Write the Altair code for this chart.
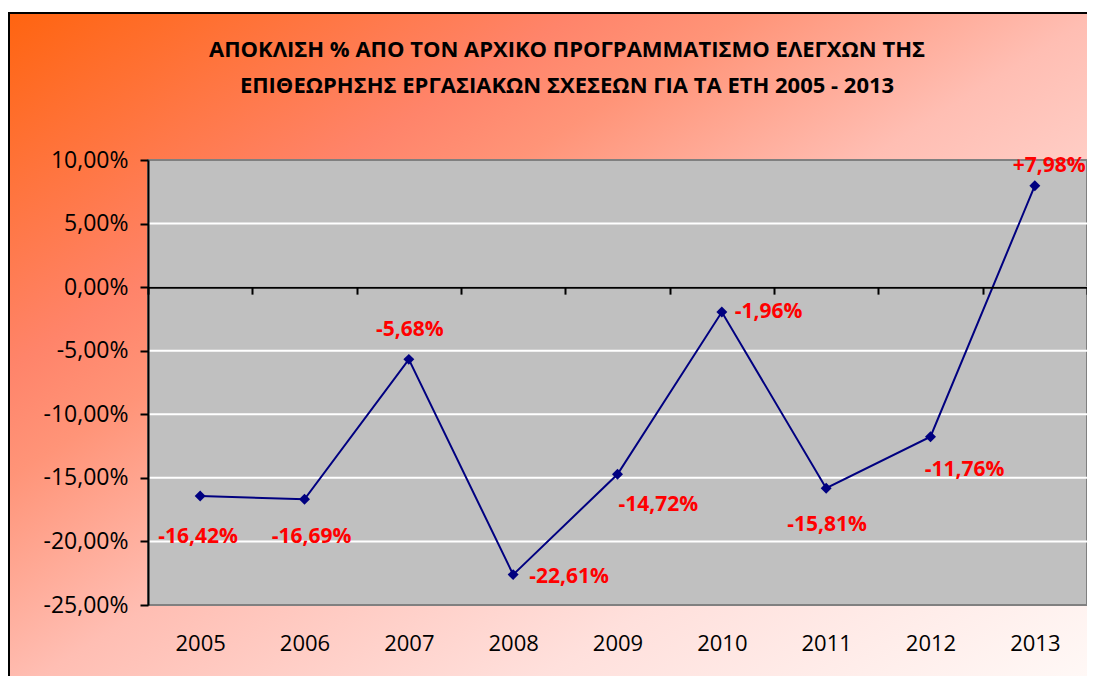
import altair as alt
import pandas as pd

YEARS = ["2005", "2006", "2007", "2008", "2009", "2010", "2011", "2012", "2013"]
DEVIATION = [-16.42, -16.69, -5.68, -22.61, -14.72, -1.96, -15.81, -11.76, 7.98]
Y_TICKS = [-25, -20, -15, -10, -5, 0, 5, 10]
TITLE_LINES = [
    "ΑΠΟΚΛΙΣΗ % ΑΠΟ ΤΟΝ ΑΡΧΙΚΟ ΠΡΟΓΡΑΜΜΑΤΙΣΜΟ ΕΛΕΓΧΩΝ ΤΗΣ",
    "ΕΠΙΘΕΩΡΗΣΗΣ ΕΡΓΑΣΙΑΚΩΝ ΣΧΕΣΕΩΝ ΓΙΑ ΤΑ ΕΤΗ 2005 - 2013",
]

# label placement (align, dx, dy) relative to each point
LABEL_PLACE = {
    "2005": ("center", -2, 41),
    "2006": ("center", 7, 38),
    "2007": ("center", 1, -29),
    "2008": ("left", 16, 2),
    "2009": ("left", 1, 31),
    "2010": ("left", 13, 0),
    "2011": ("center", 1, 37),
    "2012": ("center", 34, 33),
    "2013": ("left", -22, -20),
}

FONT = "Open Sans"
W, H = 939, 445
Y_MIN, Y_MAX = Y_TICKS[0], Y_TICKS[-1]
Y0 = H * (Y_MAX - 0) / (Y_MAX - Y_MIN)


def fmt(v):
    return f"{v:+.2f}".replace(".", ",") + "%"


df = pd.DataFrame({"year": YEARS, "dev": DEVIATION, "label": [fmt(v) for v in DEVIATION]})
grid_df = pd.DataFrame({"v": Y_TICKS[1:-1]})
one = alt.Data(values=[{"k": 1}])

xscale = alt.Scale(type="band", domain=YEARS, paddingInner=0, paddingOuter=0)
yscale = alt.Scale(domain=[Y_MIN, Y_MAX], nice=False, zero=False)

x_axis = alt.Axis(
    orient="bottom", offset=-(H - Y0), domainColor="black", domainWidth=2,
    tickColor="black", tickWidth=2, tickSize=7, tickBand="extent",
    labelPadding=339, labelFont=FONT, labelFontSize=22, labelColor="black",
    labelAngle=0, title=None, grid=False, zindex=1,
)
y_axis = alt.Axis(
    values=Y_TICKS,
    labelExpr="(datum.value < 0 ? '-' : '') + replace(format(abs(datum.value), '.2f'), '.', ',') + '%'",
    domainColor="black", domainWidth=2, tickColor="black", tickWidth=2, tickSize=8,
    labelPadding=12, labelFont=FONT, labelFontSize=23, labelColor="black",
    title=None, grid=False, zindex=1,
)

X = alt.X("year:N", scale=xscale, axis=x_axis, sort=YEARS)
Y = alt.Y("dev:Q", scale=yscale, axis=y_axis)

gradient = alt.Gradient(
    gradient="linear", x1=0, y1=0, x2=1, y2=1,
    stops=[
        alt.GradientStop(color="#FF6410", offset=0),
        alt.GradientStop(color="#FF846A", offset=0.26),
        alt.GradientStop(color="#FF9478", offset=0.34),
        alt.GradientStop(color="#FFBEB3", offset=0.5),
        alt.GradientStop(color="#FFE0DC", offset=0.73),
        alt.GradientStop(color="#FFFAF8", offset=1),
    ],
)

background = alt.Chart(one).mark_rect(fill=gradient, strokeWidth=0).encode(
    x=alt.value(-139), x2=alt.value(W + 14), y=alt.value(-147), y2=alt.value(H + 90)
)
border_left = alt.Chart(one).mark_rule(color="black", strokeWidth=2).encode(
    x=alt.value(-139), y=alt.value(-148), y2=alt.value(H + 90)
)
border_top = alt.Chart(one).mark_rule(color="black", strokeWidth=2).encode(
    y=alt.value(-147), x=alt.value(-140), x2=alt.value(W + 14)
)
plot_bg = alt.Chart(one).mark_rect(fill="#C0C0C0", stroke="#808080", strokeWidth=2).encode(
    x=alt.value(0), x2=alt.value(W), y=alt.value(0), y2=alt.value(H)
)
grid = alt.Chart(grid_df).mark_rule(color="white", strokeWidth=2).encode(
    y=alt.Y("v:Q", scale=yscale, axis=y_axis), x=alt.value(0), x2=alt.value(W)
)
title = alt.Chart(one).mark_text(
    text=TITLE_LINES, font=FONT, fontSize=22, fontWeight="bold", color="black",
    align="center", baseline="alphabetic", lineHeight=36,
).encode(x=alt.value(419), y=alt.value(-103))

line = alt.Chart(df).mark_line(color="#000080", strokeWidth=2).encode(x=X, y=Y)
points = alt.Chart(df).mark_point(
    shape="diamond", filled=True, size=120, color="#000080", opacity=1
).encode(x=X, y=Y)

label_layers = []
for yr, (al, dx, dy) in LABEL_PLACE.items():
    label_layers.append(
        alt.Chart(df).transform_filter(alt.datum.year == yr).mark_text(
            font=FONT, fontSize=21, fontWeight="bold", color="#FF0000",
            align=al, baseline="middle", dx=dx, dy=dy,
        ).encode(x=X, y=Y, text="label:N")
    )

chart = alt.layer(
    background, border_left, border_top, plot_bg, grid, title, line, points, *label_layers
).properties(
    width=W, height=H,
    padding={"left": 140, "top": 152, "right": 0, "bottom": 71},
    autosize=alt.AutoSizeParams(type="none"),
).configure_view(stroke=None)

chart.save("out.html", embed_options={"renderer": "svg", "actions": False})
